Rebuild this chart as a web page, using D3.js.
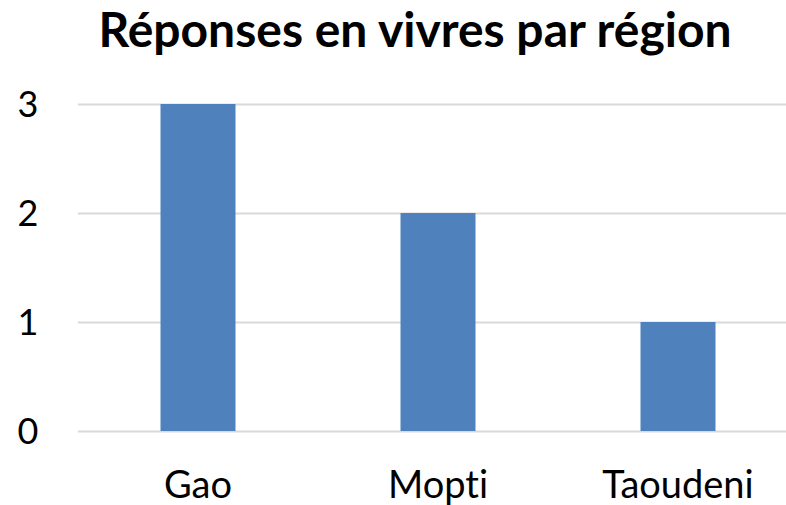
<!DOCTYPE html>
<html><head><meta charset="utf-8">
<script src="https://cdn.jsdelivr.net/npm/d3@7"></script>
<style>body{margin:0;background:#fff}svg{display:block}text{font-variant-ligatures:none;font-feature-settings:"liga" 0}</style>
</head><body>
<svg id="c" width="786" height="505"></svg>
<script>
const categories = ["Gao", "Mopti", "Taoudeni"];
const values = [3, 2, 1];
const yTicks = [0, 1, 2, 3];
const title = "Réponses en vivres par région";

const svg = d3.select("#c");
const font = "Lato, 'Open Sans', sans-serif";
const x = d3.scaleBand().domain(categories).range([78, 798]).paddingInner(0.6875).paddingOuter(0.34375);
const y = d3.scaleLinear().domain([0, 3]).range([431, 104]);

svg.append("text").attr("x", 415).attr("y", 47).attr("text-anchor", "middle")
  .attr("font-family", font).attr("font-weight", "bold").attr("font-size", 48).attr("fill", "#000").text(title);

const yAxis = d3.axisLeft(y).tickValues(yTicks).tickSize(-(786 - 78)).tickFormat(d3.format("d"));
const gy = svg.append("g").attr("transform", "translate(78,0)").call(yAxis);
gy.select(".domain").remove();
gy.selectAll(".tick line").attr("stroke", "#d9d9d9").attr("stroke-width", 2);
gy.selectAll(".tick text").attr("x", -50).attr("dy", "0.36em").attr("text-anchor", "middle")
  .attr("font-family", font).attr("font-size", 36).attr("fill", "#000");

svg.selectAll("rect.bar").data(values).join("rect").attr("class", "bar")
  .attr("x", (d, i) => x(categories[i])).attr("width", x.bandwidth())
  .attr("y", d => y(d)).attr("height", d => y(0) - y(d)).attr("fill", "#4f81bd");

const xAxis = d3.axisBottom(x).tickSize(0);
const gx = svg.append("g").attr("transform", "translate(0,431)").call(xAxis);
gx.select(".domain").remove();
gx.selectAll(".tick text").attr("y", 67).attr("dy", 0)
  .attr("font-family", font).attr("font-size", 38).attr("fill", "#000");
</script>
</body></html>
